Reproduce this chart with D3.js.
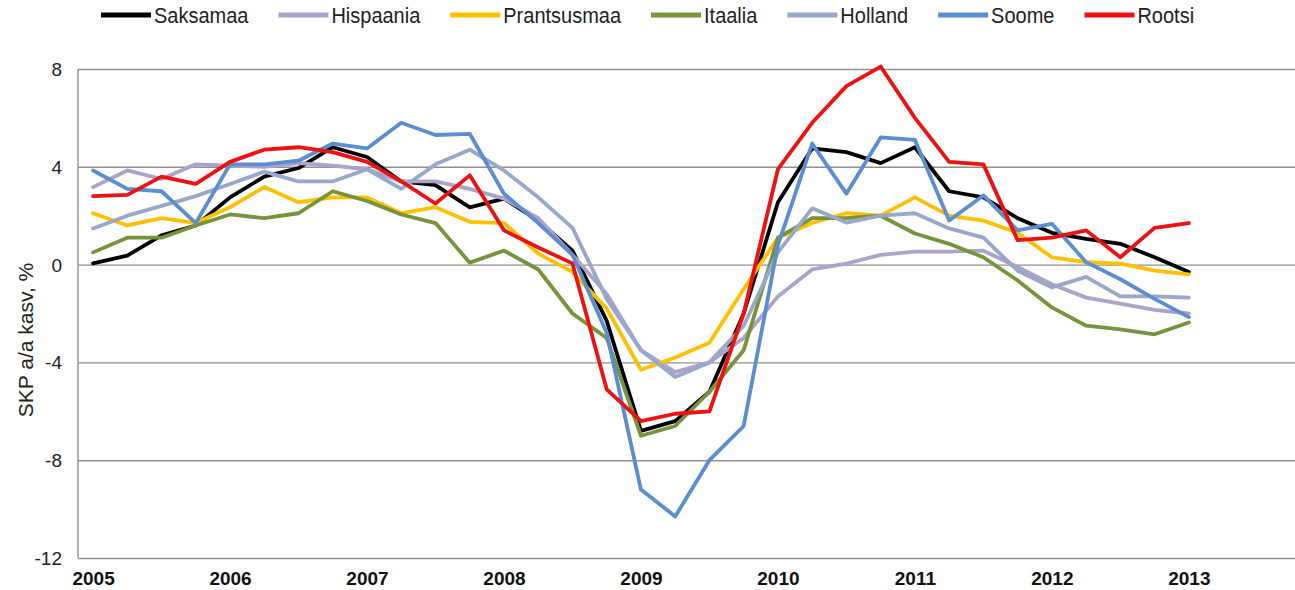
<!DOCTYPE html>
<html><head><meta charset="utf-8">
<script src="https://cdn.jsdelivr.net/npm/d3@7"></script>
<style>
html,body{margin:0;padding:0;background:#fff;}
svg{display:block;font-family:"Liberation Sans",Arial,sans-serif;}
</style></head>
<body><svg id="c" width="1295" height="590"></svg>
<script>
const quarters = [
 "2005Q1","2005Q2","2005Q3","2005Q4","2006Q1","2006Q2","2006Q3","2006Q4",
 "2007Q1","2007Q2","2007Q3","2007Q4","2008Q1","2008Q2","2008Q3","2008Q4",
 "2009Q1","2009Q2","2009Q3","2009Q4","2010Q1","2010Q2","2010Q3","2010Q4",
 "2011Q1","2011Q2","2011Q3","2011Q4","2012Q1","2012Q2","2012Q3","2012Q4",
 "2013Q1"];
const yearLabels = ["2005","2006","2007","2008","2009","2010","2011","2012","2013"];
const yTicks = [-12,-8,-4,0,4,8];
const yTickLabels = ["-12","-8","-4","0","4","8"];
const seriesNames = ["Saksamaa","Hispaania","Prantsusmaa","Itaalia","Holland","Soome","Rootsi"];
const seriesColors = ["#000000","#ABA3C9","#FFC000","#77933C","#97A8C8","#5B8ED0","#EE1111"];

const saksamaa = [0.05,0.37,1.2,1.6, 2.75,3.6,3.95,4.8, 4.4,3.4,3.25,2.34, 2.7,1.8,0.57,-2.3,
  -6.8,-6.4,-5.2,-2.0, 2.55,4.75,4.6,4.15, 4.8,3.0,2.75,1.9, 1.3,1.05,0.85,0.3, -0.3];
const hispaania = [3.17,3.85,3.5,4.1, 4.05,4.0,4.15,4.05, 3.9,3.4,3.4,3.1, 2.7,1.9,0.4,-1.2,
  -3.5,-4.4,-4.0,-3.0, -1.3,-0.2,0.04,0.4, 0.53,0.53,0.57,-0.1, -0.8,-1.35,-1.6,-1.85, -2.0];
const prantsusmaa = [2.1,1.6,1.9,1.7, 2.35,3.17,2.55,2.75, 2.75,2.1,2.35,1.75, 1.7,0.45,-0.3,-1.8,
  -4.3,-3.8,-3.2,-1.0, 1.1,1.7,2.1,2.0, 2.75,2.0,1.8,1.3, 0.3,0.1,0.04,-0.25, -0.4];
const itaalia = [0.5,1.1,1.1,1.6, 2.05,1.9,2.1,3.0, 2.6,2.05,1.7,0.08, 0.57,-0.2,-2.0,-3.0,
  -7.0,-6.6,-5.2,-3.5, 1.1,1.9,1.9,2.0, 1.27,0.85,0.3,-0.65, -1.75,-2.5,-2.65,-2.85, -2.37];
const holland = [1.48,2.0,2.4,2.8, 3.3,3.8,3.4,3.4, 3.9,3.1,4.1,4.7, 3.85,2.75,1.5,-1.4,
  -3.5,-4.6,-4.0,-2.5, 0.5,2.3,1.72,2.0, 2.1,1.48,1.1,-0.25, -0.93,-0.5,-1.3,-1.3, -1.35];
const soome = [3.85,3.1,3.0,1.7, 4.1,4.1,4.25,4.95, 4.75,5.8,5.3,5.35, 2.9,1.7,0.4,-2.8,
  -9.2,-10.3,-8.0,-6.6, 0.8,4.95,2.9,5.2, 5.1,1.8,2.83,1.4, 1.67,0.1,-0.6,-1.4, -2.15];
const rootsi = [2.8,2.85,3.6,3.3, 4.2,4.7,4.8,4.6, 4.2,3.4,2.5,3.65, 1.4,0.7,0.05,-5.1,
  -6.4,-6.1,-6.0,-2.0, 3.9,5.8,7.3,8.1, 6.0,4.2,4.1,1.0, 1.1,1.4,0.3,1.5, 1.7];
const seriesValues = [saksamaa,hispaania,prantsusmaa,itaalia,holland,soome,rootsi];

const svg = d3.select("#c");
const plot = {left:78, right:1295, top:69, bottom:558};

const x = d3.scaleLinear().domain([-0.44, 35.1]).range([plot.left, plot.right]);
const y = d3.scaleLinear().domain([-12, 8]).range([plot.bottom, plot.top]);

// gridlines + y labels
const yAxis = d3.axisLeft(y).tickValues(yTicks).tickSize(-(plot.right - plot.left)).tickPadding(16)
  .tickFormat((d, i) => yTickLabels[i]);
const gy = svg.append("g").attr("transform", `translate(${plot.left},0)`).call(yAxis);
gy.select(".domain").remove();
gy.selectAll(".tick line").attr("stroke", "#8f8f8f").attr("stroke-width", 1.4);
gy.selectAll(".tick text").attr("font-size", 19).attr("fill", "#222")
  .attr("font-family", '"Liberation Sans",Arial,sans-serif').attr("dy", "0.34em");

// left axis line
svg.append("line").attr("x1", plot.left).attr("x2", plot.left)
  .attr("y1", y(8)).attr("y2", y(-12)).attr("stroke", "#8f8f8f").attr("stroke-width", 1.4);

// x axis labels
const yearIdx = yearLabels.map(yl => quarters.indexOf(yl + "Q1"));
const xAxis = d3.axisBottom(x).tickValues(yearIdx).tickSize(0).tickPadding(0)
  .tickFormat((d, i) => yearLabels[i]);
const gx = svg.append("g").attr("transform", `translate(0,${plot.bottom})`).call(xAxis);
gx.select(".domain").remove();
gx.selectAll(".tick text").attr("font-size", 19).attr("font-weight", "bold").attr("fill", "#111")
  .attr("font-family", '"Liberation Sans",Arial,sans-serif')
  .attr("dy", null).attr("y", 27);

// y title
svg.append("text").attr("transform", "translate(33,340) rotate(-90)")
  .attr("text-anchor", "middle").attr("font-size", 21).attr("fill", "#222")
  .text("SKP a/a kasv, %");

// lines
const line = d3.line().x((d, i) => x(i)).y(d => y(d));
seriesValues.forEach((vals, k) => {
  svg.append("path").datum(vals).attr("d", line)
    .attr("fill", "none").attr("stroke", seriesColors[k]).attr("stroke-width", 3.8)
    .attr("stroke-linejoin", "round").attr("stroke-linecap", "round");
});

// legend
const lg = svg.append("g");
let cx = 101;
seriesNames.forEach((name, k) => {
  lg.append("line").attr("x1", cx).attr("x2", cx + 50).attr("y1", 15).attr("y2", 15)
    .attr("stroke", seriesColors[k]).attr("stroke-width", 5);
  const t = lg.append("text").attr("transform", `translate(${cx + 53},23) scale(1,1.08)`)
    .attr("font-size", 20).attr("fill", "#222").text(name);
  cx += 53 + t.node().getComputedTextLength() + 30;
});
</script></body></html>
